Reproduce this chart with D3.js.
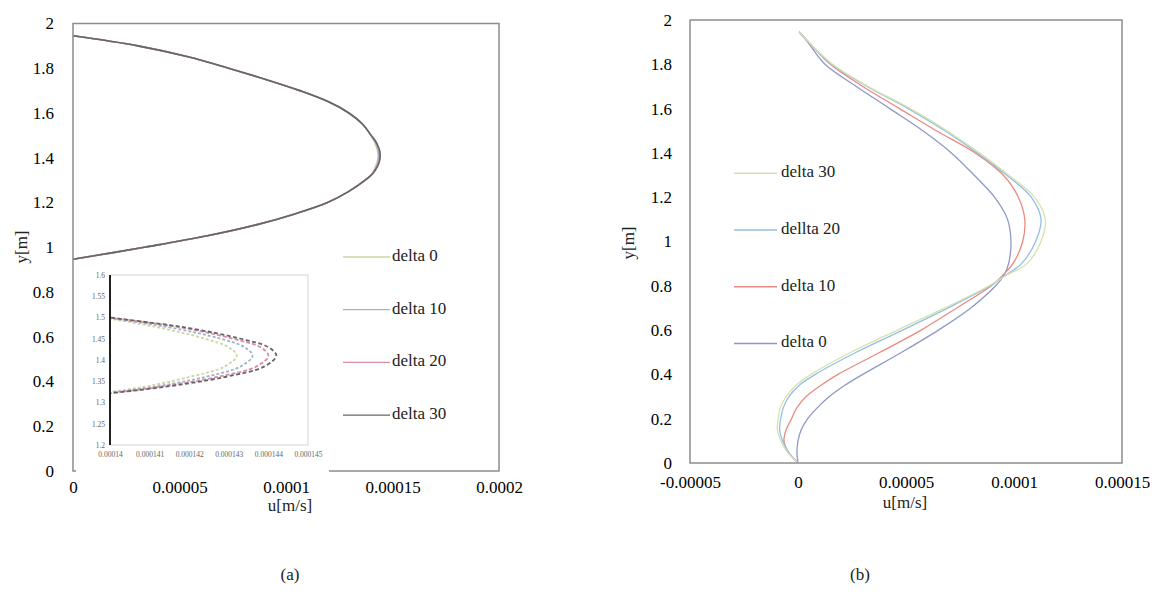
<!DOCTYPE html>
<html>
<head>
<meta charset="utf-8">
<script src="https://cdn.jsdelivr.net/npm/d3@7"></script>
<style>
  html, body { margin: 0; padding: 0; background: #fff; }
</style>
</head>
<body>
<svg id="chart" width="1162" height="596"></svg>
<script>
// velocities are in units of 1e-5 m/s
const FONT = "'Liberation Serif', 'DejaVu Serif', serif";
const FS = 17;

// (a) left panel
const leftNames = ["delta 0", "delta 10", "delta 20", "delta 30"];
const leftColors = ["#cbd6a2", "#9fb1cc", "#d98fa8", "#666666"];
const leftY = [0.946, 1.0, 1.05, 1.1, 1.15, 1.2, 1.25, 1.3, 1.33, 1.36, 1.385, 1.41, 1.43, 1.45, 1.475, 1.5, 1.55, 1.6, 1.65, 1.7, 1.75, 1.8, 1.85, 1.9, 1.945];
const leftU0  = [0, 3.35, 6.25, 8.6, 10.45, 11.95, 12.95, 13.7, 14.04, 14.2, 14.29, 14.32, 14.3, 14.24, 14.13, 13.98, 13.6, 12.95, 12.0, 10.65, 9.05, 7.3, 5.45, 3.05, 0];
const leftU10 = [0, 3.35, 6.25, 8.6, 10.45, 11.95, 12.95, 13.71, 14.06, 14.24, 14.33, 14.36, 14.34, 14.28, 14.16, 13.99, 13.6, 12.95, 12.0, 10.65, 9.05, 7.3, 5.45, 3.05, 0];
const leftU20 = [0, 3.35, 6.25, 8.6, 10.45, 11.95, 12.95, 13.72, 14.07, 14.27, 14.37, 14.4, 14.38, 14.31, 14.19, 14.0, 13.6, 12.95, 12.0, 10.65, 9.05, 7.3, 5.45, 3.05, 0];
const leftU30 = [0, 3.35, 6.25, 8.6, 10.45, 11.95, 12.95, 13.72, 14.08, 14.29, 14.39, 14.42, 14.4, 14.33, 14.2, 14.0, 13.6, 12.95, 12.0, 10.65, 9.05, 7.3, 5.45, 3.05, 0];
const leftXTicks = [0, 5, 10, 15, 20];
const leftXLabels = ["0", "0.00005", "0.0001", "0.00015", "0.0002"];
const yTicks = [0, 0.2, 0.4, 0.6, 0.8, 1, 1.2, 1.4, 1.6, 1.8, 2];
const yLabels = ["0", "0.2", "0.4", "0.6", "0.8", "1", "1.2", "1.4", "1.6", "1.8", "2"];

// inset of (a)
const insetXTicks = [14.0, 14.1, 14.2, 14.3, 14.4, 14.5];
const insetXLabels = ["0.00014", "0.000141", "0.000142", "0.000143", "0.000144", "0.000145"];
const insetYTicks = [1.2, 1.25, 1.3, 1.35, 1.4, 1.45, 1.5, 1.55, 1.6];
const insetYLabels = ["1.2", "1.25", "1.3", "1.35", "1.4", "1.45", "1.5", "1.55", "1.6"];

// (b) right panel
const rightNames = ["delta 0", "delta 10", "dellta 20", "delta 30"];
const rightColors = ["#8e98c9", "#e98b80", "#92bfe2", "#d6e2ae"];
const rightY = [0, 0.05, 0.1, 0.15, 0.2, 0.25, 0.3, 0.35, 0.4, 0.5, 0.6, 0.7, 0.8, 0.85, 0.9, 1.0, 1.1, 1.2, 1.3, 1.4, 1.5, 1.6, 1.7, 1.8, 1.9, 1.947];
const rightU0  = [0, -0.05, 0, 0.15, 0.45, 0.9, 1.45, 2.15, 3.0, 4.8, 6.5, 8.0, 9.15, 9.55, 9.75, 9.86, 9.7, 9.1, 8.15, 7.1, 5.78, 4.25, 2.7, 1.25, 0.45, 0.05];
const rightU10 = [0, -0.45, -0.65, -0.55, -0.3, -0.05, 0.38, 1.05, 1.85, 3.8, 5.7, 7.35, 8.95, 9.5, 9.95, 10.4, 10.5, 10.2, 9.5, 8.2, 6.4, 4.7, 3.0, 1.5, 0.5, 0.05];
const rightU20 = [0, -0.45, -0.72, -0.85, -0.8, -0.68, -0.42, 0.05, 0.8, 2.7, 4.85, 6.95, 8.9, 9.65, 10.35, 11.0, 11.25, 10.8, 9.65, 8.3, 6.8, 5.1, 3.2, 1.55, 0.5, 0.05];
const rightU30 = [0, -0.5, -0.8, -0.95, -0.92, -0.82, -0.55, -0.1, 0.6, 2.45, 4.6, 6.8, 8.85, 9.7, 10.6, 11.25, 11.45, 10.95, 9.75, 8.4, 6.9, 5.2, 3.25, 1.6, 0.5, 0.05];
const rightXTicks = [-5, 0, 5, 10, 15];
const rightXLabels = ["-0.00005", "0", "0.00005", "0.0001", "0.00015"];

const svg = d3.select("#chart");

function toPoints(ys, us) {
  return ys.map((y, i) => [us[i], y]);
}

function drawPanel(p) {
  const g = svg.append("g");
  const x = d3.scaleLinear().domain(p.xDomain).range([p.left, p.right]);
  const y = d3.scaleLinear().domain([0, 2]).range([p.bottom, p.top]);

  const line = d3.line()
      .x(d => x(d[0]))
      .y(d => y(d[1]))
      .curve(d3.curveCatmullRom.alpha(0.5));

  p.series.forEach((s, i) => {
    g.append("path")
        .attr("d", line(s))
        .attr("fill", "none")
        .attr("stroke", p.colors[i])
        .attr("stroke-width", p.lineWidth);
  });

  g.append("rect")
      .attr("x", p.left).attr("y", p.top)
      .attr("width", p.right - p.left).attr("height", p.bottom - p.top)
      .attr("fill", "none").attr("stroke", "#8c8c8c").attr("stroke-width", 1.5);

  const ya = g.append("g")
      .attr("transform", `translate(${p.left},0)`)
      .call(d3.axisLeft(y).tickValues(yTicks).tickFormat((d, i) => yLabels[i]).tickSize(0).tickPadding(p.yPad));
  const xa = g.append("g")
      .attr("transform", `translate(0,${p.bottom})`)
      .call(d3.axisBottom(x).tickValues(p.xTicks).tickFormat((d, i) => p.xLabels[i]).tickSize(0).tickPadding(p.xPad));
  [ya, xa].forEach(a => {
    a.select(".domain").remove();
    a.selectAll("text").attr("font-size", FS);
  });

  g.append("text")
      .attr("transform", `translate(${p.yTitle[0]},${p.yTitle[1]}) rotate(-90)`)
      .attr("text-anchor", "middle").attr("dominant-baseline", "middle")
      .attr("font-size", FS).text("y[m]");
  g.append("text")
      .attr("x", p.xTitle[0]).attr("y", p.xTitle[1])
      .attr("text-anchor", "middle").attr("dominant-baseline", "middle")
      .attr("font-size", FS).text("u[m/s]");

  return {g, x, y};
}

// ---- panel (a)
const leftSeries = [leftU0, leftU10, leftU20, leftU30].map(u => toPoints(leftY, u));
drawPanel({
  left: 73, right: 499, top: 23.5, bottom: 471,
  xDomain: [0, 20], xTicks: leftXTicks, xLabels: leftXLabels,
  series: leftSeries, colors: leftColors, lineWidth: 1.6,
  yPad: 19, xPad: 10, yTitle: [23, 247], xTitle: [290, 507]
});

// legend (a)
const legA = svg.append("g");
leftNames.forEach((n, i) => {
  const ly = 257 + i * 52.7;
  legA.append("line").attr("x1", 343).attr("x2", 390).attr("y1", ly).attr("y2", ly)
      .attr("stroke", leftColors[i]).attr("stroke-width", 1.3);
  legA.append("text").attr("x", 392).attr("y", ly).attr("dominant-baseline", "middle")
      .attr("font-size", FS).text(n);
});

// inset (a)
const inset = svg.append("g");
inset.append("rect").attr("x", 76).attr("y", 263).attr("width", 253).attr("height", 213).attr("fill", "#fff");
const ix = d3.scaleLinear().domain([14.0, 14.5]).range([110, 308]);
const iy = d3.scaleLinear().domain([1.2, 1.6]).range([445, 275]);
svg.append("defs").append("clipPath").attr("id", "insetClip")
  .append("rect").attr("x", 110).attr("y", 275).attr("width", 198).attr("height", 170);
inset.append("rect").attr("x", 110).attr("y", 275).attr("width", 198).attr("height", 170)
    .attr("fill", "none").attr("stroke", "#d4d4d4").attr("stroke-width", 1);
const iline = d3.line().x(d => ix(d[0])).y(d => iy(d[1])).curve(d3.curveCatmullRom.alpha(0.5));
const insetDash = ["3,2", "3,2", "4,2", "4,2.5"];
leftSeries.forEach((s, i) => {
  inset.append("path").attr("d", iline(s)).attr("clip-path", "url(#insetClip)")
      .attr("fill", "none").attr("stroke", leftColors[i]).attr("stroke-width", 1.8)
      .attr("stroke-dasharray", insetDash[i]);
});
inset.append("line").attr("x1", 110).attr("x2", 110).attr("y1", 275).attr("y2", 445)
    .attr("stroke", "#222").attr("stroke-width", 2);
const iya = inset.append("g").attr("transform", "translate(110,0)")
    .call(d3.axisLeft(iy).tickValues(insetYTicks).tickFormat((d, i) => insetYLabels[i]).tickSize(0).tickPadding(5));
const ixa = inset.append("g").attr("transform", "translate(0,445)")
    .call(d3.axisBottom(ix).tickValues(insetXTicks).tickFormat((d, i) => insetXLabels[i]).tickSize(0).tickPadding(7));
[iya, ixa].forEach(ax => {
  ax.select(".domain").remove();
  ax.selectAll("text").attr("font-size", 7.5).attr("fill", "#666");
});

// ---- panel (b)
const rightSeries = [rightU0, rightU10, rightU20, rightU30].map(u => toPoints(rightY, u));
drawPanel({
  left: 690, right: 1122, top: 20, bottom: 463,
  xDomain: [-5, 15], xTicks: rightXTicks, xLabels: rightXLabels,
  series: rightSeries, colors: rightColors, lineWidth: 1.3,
  yPad: 18, xPad: 13, yTitle: [630, 243], xTitle: [905, 504]
});

// legend (b), listed top-down from delta 30
const legB = svg.append("g");
[3, 2, 1, 0].forEach((k, j) => {
  const ly = 173.3 + j * 56.7;
  legB.append("line").attr("x1", 734).attr("x2", 777).attr("y1", ly).attr("y2", ly)
      .attr("stroke", rightColors[k]).attr("stroke-width", 1.5);
  legB.append("text").attr("x", 781).attr("y", ly).attr("dominant-baseline", "middle")
      .attr("font-size", FS).text(rightNames[k]);
});

// captions
svg.append("text").attr("x", 290).attr("y", 576).attr("text-anchor", "middle")
    .attr("dominant-baseline", "middle").attr("font-size", FS).text("(a)");
svg.append("text").attr("x", 860).attr("y", 576).attr("text-anchor", "middle")
    .attr("dominant-baseline", "middle").attr("font-size", FS).text("(b)");

// serif text everywhere, as in the original figure
svg.selectAll("g").attr("font-family", null);
svg.selectAll("text").style("font-family", FONT).filter(function() {
  return !this.getAttribute("fill");
}).attr("fill", "#222");
</script>
</body>
</html>
